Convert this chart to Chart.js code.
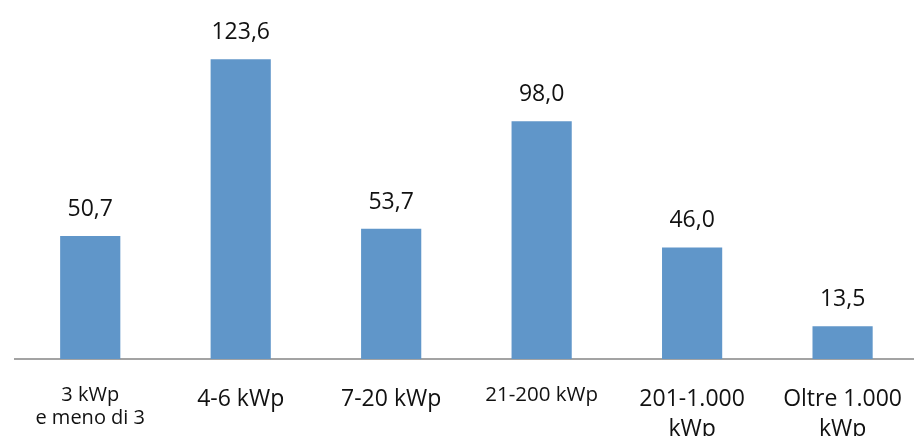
<!DOCTYPE html>
<html lang="it">
<head>
<meta charset="utf-8">
<title>Potenza per classe di impianto</title>
<script src="https://cdn.jsdelivr.net/npm/chart.js@4/dist/chart.umd.min.js"></script>
<style>
  html, body { margin: 0; padding: 0; background: #ffffff; overflow: hidden; }
  #wrap { width: 919px; height: 436px; }
</style>
</head>
<body>
<div id="wrap"><canvas id="chart" width="919" height="436"></canvas></div>
<script>
// Classi di potenza e valori
const categories = [
  ['3 kWp', 'e meno di 3'],
  '4-6 kWp',
  '7-20 kWp',
  '21-200 kWp',
  ['201-1.000', 'kWp'],
  ['Oltre 1.000', 'kWp']
];
const values = [50.7, 123.6, 53.7, 98.0, 46.0, 13.5];

// Dimensioni del testo delle etichette di categoria
const tickFontSizes = [20, 23, 23, 20.5, 23, 23];
const tickLineHeights = ['23px', '30px', '30px', '23px', '30px', '30px'];

const fmt = v => v.toFixed(1).replace('.', ',');

// Etichette dei valori sopra le barre
const valueLabels = {
  id: 'valueLabels',
  afterDatasetsDraw(chart) {
    const ctx = chart.ctx;
    const meta = chart.getDatasetMeta(0);
    ctx.save();
    ctx.font = '23px "Open Sans"';
    ctx.fillStyle = '#111111';
    ctx.textAlign = 'center';
    ctx.textBaseline = 'alphabetic';
    meta.data.forEach((bar, i) => {
      ctx.fillText(fmt(chart.data.datasets[0].data[i]), bar.x, bar.y - 20);
    });
    ctx.restore();
  }
};

new Chart(document.getElementById('chart'), {
  type: 'bar',
  data: {
    labels: categories,
    datasets: [{
      data: values,
      backgroundColor: '#6096c9',
      borderWidth: 0,
      categoryPercentage: 1.0,
      barPercentage: 0.4
    }]
  },
  options: {
    responsive: false,
    animation: false,
    devicePixelRatio: 1,
    layout: { padding: { left: 15, right: 0, top: 0, bottom: 0 } },
    plugins: {
      legend: { display: false },
      tooltip: { enabled: false }
    },
    scales: {
      x: {
        grid: { display: false },
        border: { display: true, color: '#a3a3a3', width: 2 },
        ticks: {
          color: '#111111',
          padding: 17,
          autoSkip: false,
          maxRotation: 0,
          minRotation: 0,
          font: ctx => ({
            family: '"Open Sans"',
            size: tickFontSizes[ctx.index],
            lineHeight: tickLineHeights[ctx.index]
          })
        },
        afterFit: scale => { scale.height = 77; }
      },
      y: {
        display: false,
        min: 0,
        max: 148
      }
    }
  },
  plugins: [valueLabels]
});
</script>
</body>
</html>
